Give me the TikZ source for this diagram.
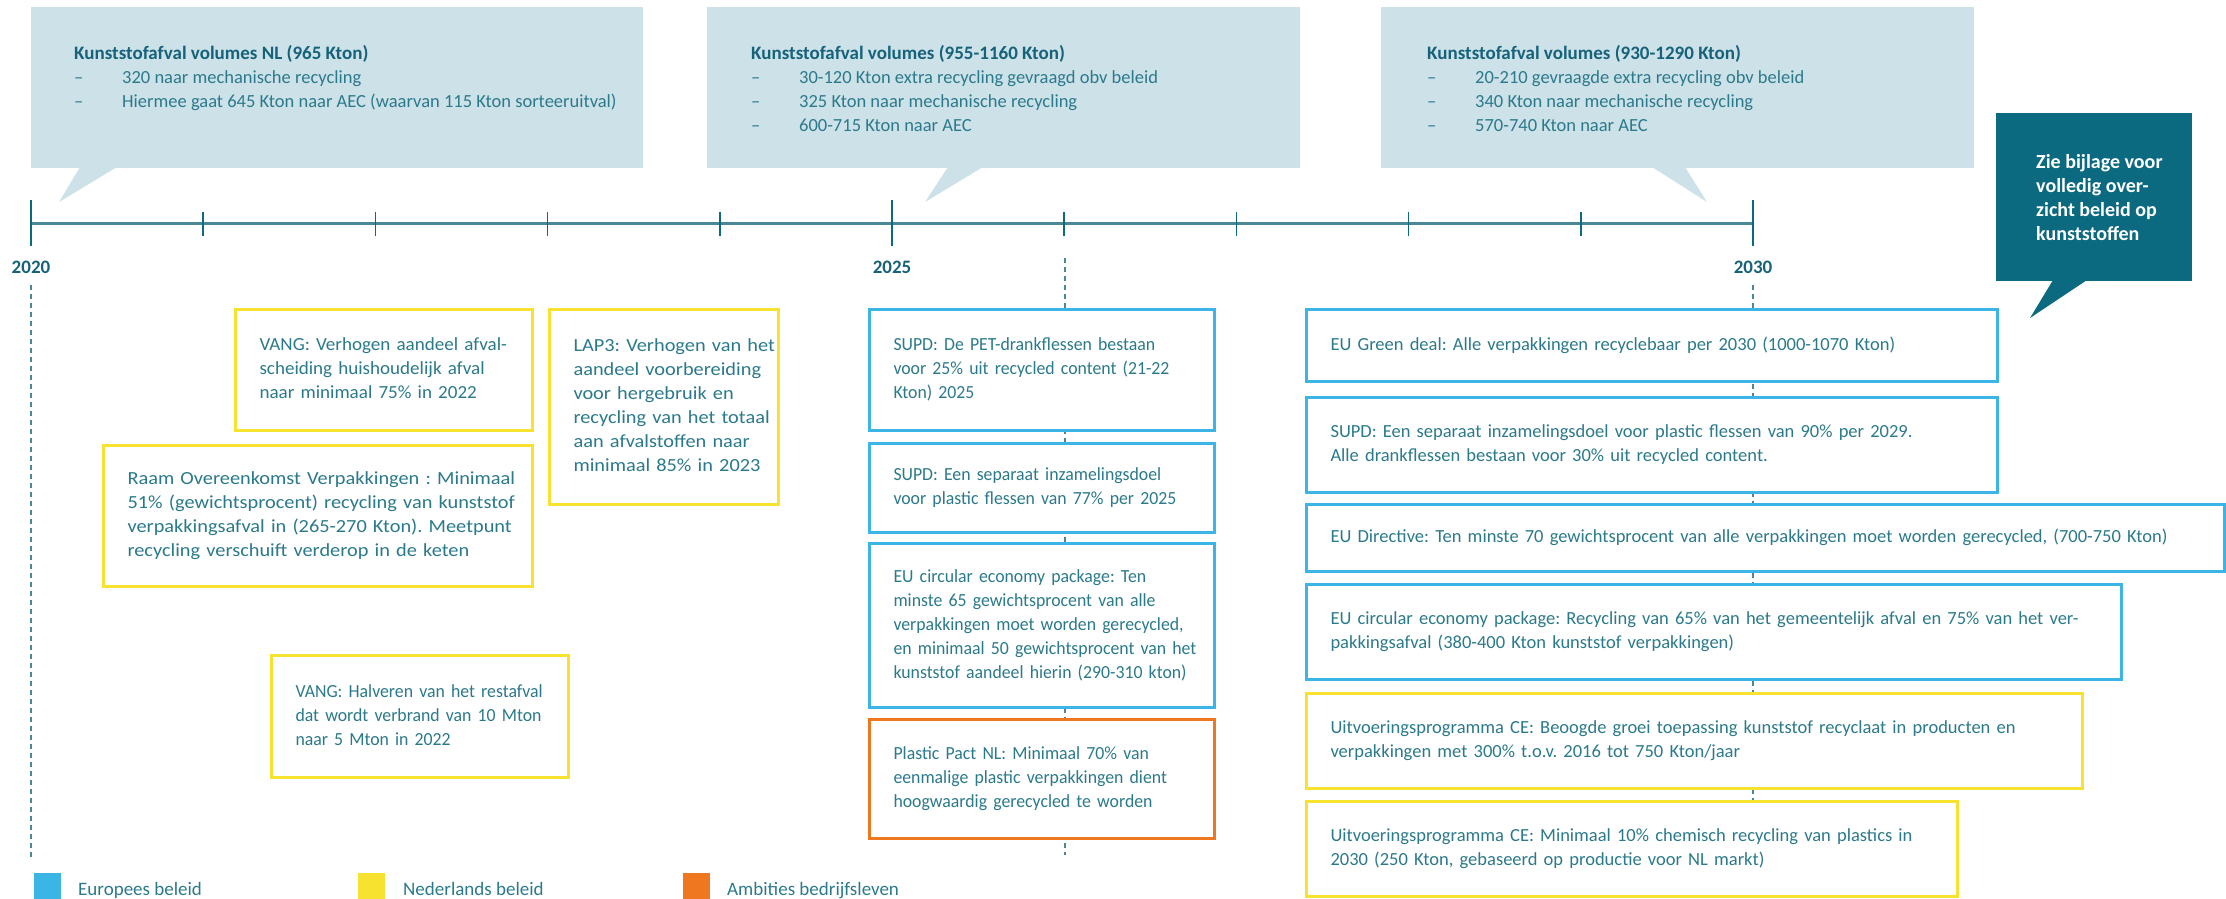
\documentclass[tikz,border=0pt]{standalone}
\usepackage{fontspec}
\setmainfont{Carlito}
\newfontfamily\stretchfnt[FakeStretch=1.1]{Carlito}
\newfontfamily\midfnt[FakeStretch=1.03]{Carlito}
\newfontfamily\narrowfnt[FakeStretch=0.96]{Carlito}
\definecolor{bub}{HTML}{CDE1E8}
\definecolor{darkteal}{HTML}{0B6A80}
\definecolor{txt}{HTML}{2B7A8B}
\definecolor{ttl}{HTML}{15627A}
\definecolor{eublue}{HTML}{3BB4E6}
\definecolor{nlyel}{HTML}{F7E22F}
\definecolor{bizor}{HTML}{EE771F}
\definecolor{axiscol}{HTML}{4A8797}
\newcommand\bodyfs{\fontsize{18.5}{24}\selectfont\frenchspacing}
\newcommand\ttlfs{\fontsize{19}{24}\selectfont\bfseries}
\newcommand\dsh{\makebox[48pt][l]{–}}
\newcommand\boxlines[1]{\begin{tabular}{@{}l@{}}#1\end{tabular}}
\tikzset{
  pbox/.style={draw, line width=3pt, fill=white, anchor=north west, inner xsep=24pt, inner ysep=0pt, align=left, font=\bodyfs, text=txt},
  eubox/.style={pbox, draw=eublue},
  nlbox/.style={pbox, draw=nlyel},
  bizbox/.style={pbox, draw=bizor},
  bubble/.style={fill=bub, draw=none, anchor=north west, inner sep=0pt},
  bubtext/.style={anchor=north west, inner sep=0pt, align=left, text=txt, font=\bodyfs},
  vline/.style={draw=axiscol, line width=1.4pt, dash pattern=on 5pt off 4pt},
  yearlabel/.style={text=ttl, font=\ttlfs, inner sep=0pt},
  legsq/.style={anchor=north west, minimum size=27pt, inner sep=0pt},
  legtext/.style={anchor=base west, inner sep=0pt, text=txt, font=\fontsize{19}{24}\selectfont},
}
\begin{document}
\begin{tikzpicture}[x=1pt,y=-1pt]
\useasboundingbox (0,0) rectangle (2226,898);

% dashed vertical guides
\coordinate (v20a) at (31,285);  \coordinate (v20b) at (31,857);
\coordinate (v25a) at (1065,258); \coordinate (v25b) at (1065,855);
\coordinate (v30a) at (1753,285); \coordinate (v30b) at (1753,800);
\draw[vline] (v20a) -- (v20b);
\draw[vline] (v25a) -- (v25b);
\draw[vline] (v30a) -- (v30b);

% speech bubbles
\node[bubble, minimum width=612pt, minimum height=161pt] (bub1) at (31,7) {};
\fill[bub] (80,167) -- (117,167) -- (59,202) -- cycle;
\node[bubtext] (bt1) at (74,45) {{\ttlfs\color{ttl}Kunststofafval volumes NL (965 Kton)}\\
\dsh 320 naar mechanische recycling\\
\dsh Hiermee gaat 645 Kton naar AEC (waarvan 115 Kton sorteeruitval)};

\node[bubble, minimum width=593pt, minimum height=161pt] (bub2) at (707,7) {};
\fill[bub] (948,167) -- (983,167) -- (925,202) -- cycle;
\node[bubtext] (bt2) at (751,45) {{\ttlfs\color{ttl}Kunststofafval volumes (955-1160 Kton)}\\
\dsh 30-120 Kton extra recycling gevraagd obv beleid\\
\dsh 325 Kton naar mechanische recycling\\
\dsh 600-715 Kton naar AEC};

\node[bubble, minimum width=593pt, minimum height=161pt] (bub3) at (1381,7) {};
\fill[bub] (1652,167) -- (1685,167) -- (1707,202) -- cycle;
\node[bubtext] (bt3) at (1427,45) {{\ttlfs\color{ttl}Kunststofafval volumes (930-1290 Kton)}\\
\dsh 20-210 gevraagde extra recycling obv beleid\\
\dsh 340 Kton naar mechanische recycling\\
\dsh 570-740 Kton naar AEC};

% dark note
\node[fill=darkteal, anchor=north west, inner sep=0pt, minimum width=196pt, minimum height=168pt] (note) at (1996,113) {};
\fill[darkteal] (2053,280) -- (2087,280) -- (2030,318) -- cycle;
\node[anchor=west, inner sep=0pt, align=left, text=white, font=\fontsize{20}{24}\selectfont\bfseries] (notetext) at (2036,198)
  {Zie bijlage voor\\volledig over-\\zicht beleid op\\kunststoffen};

% timeline axis
\coordinate (ax0) at (31,223);
\coordinate (ax1) at (1753,223);
\draw[axiscol, line width=3pt] (ax0) -- (ax1);
\foreach \i in {1,2,3,4,6,7,8,9} {
  \draw[darkteal, line width=1.6pt] (31+172.2*\i,212) -- (31+172.2*\i,236);
}
\foreach \i in {0,5,10} {
  \draw[darkteal, line width=1.6pt] (31+172.2*\i,200) -- (31+172.2*\i,246);
}
\node[yearlabel] (y2020) at (31,267) {2020};
\node[yearlabel] (y2025) at (892,267) {2025};
\node[yearlabel] (y2030) at (1753,267) {2030};

% Dutch policy boxes (left)
\node[nlbox, text width=249pt, minimum height=121pt, font=\bodyfs\midfnt] (vang1) at (234,308)
  {\boxlines{VANG: Verhogen aandeel afval-\\scheiding huishoudelijk afval\\naar minimaal 75\% in 2022}};
\node[nlbox, text width=181pt, minimum height=195pt, font=\bodyfs\stretchfnt] (lap3) at (548,308)
  {\boxlines{LAP3: Verhogen van het\\aandeel voorbereiding\\voor hergebruik en\\recycling van het totaal\\aan afvalstoffen naar\\minimaal 85\% in 2023}};
\node[nlbox, text width=381pt, minimum height=141pt, font=\bodyfs\stretchfnt] (raam) at (102,444)
  {\boxlines{Raam Overeenkomst Verpakkingen : Minimaal\\51\% (gewichtsprocent) recycling van kunststof\\verpakkingsafval in (265-270 Kton). Meetpunt\\recycling verschuift verderop in de keten}};
\node[nlbox, text width=249pt, minimum height=122pt, font=\bodyfs\narrowfnt] (vang2) at (270,654)
  {\boxlines{VANG: Halveren van het restafval\\dat wordt verbrand van 10 Mton\\naar 5 Mton in 2022}};

% 2025 column
\node[eubox, text width=297pt, minimum height=121pt, font=\bodyfs\narrowfnt] (supd1) at (868,308)
  {\boxlines{SUPD: De PET-drankflessen bestaan\\voor 25\% uit recycled content (21-22\\Kton) 2025}};
\node[eubox, text width=297pt, minimum height=89pt, font=\bodyfs\narrowfnt] (supd2) at (868,442)
  {\boxlines{SUPD: Een separaat inzamelingsdoel\\voor plastic flessen van 77\% per 2025}};
\node[eubox, text width=297pt, minimum height=164pt, font=\bodyfs\narrowfnt] (cep1) at (868,542)
  {\boxlines{EU circular economy package: Ten\\minste 65 gewichtsprocent van alle\\verpakkingen moet worden gerecycled,\\en minimaal 50 gewichtsprocent van het\\kunststof aandeel hierin (290-310 kton)}};
\node[bizbox, text width=297pt, minimum height=119pt, font=\bodyfs\narrowfnt] (pact) at (868,718)
  {\boxlines{Plastic Pact NL: Minimaal 70\% van\\eenmalige plastic verpakkingen dient\\hoogwaardig gerecycled te worden}};

% 2030 column
\node[eubox, text width=643pt, minimum height=72pt] (green) at (1305,308)
  {\boxlines{EU Green deal: Alle verpakkingen recyclebaar per 2030 (1000-1070 Kton)}};
\node[eubox, text width=643pt, minimum height=95pt] (supd3) at (1305,396)
  {\boxlines{SUPD: Een separaat inzamelingsdoel voor plastic flessen van 90\% per 2029.\\Alle drankflessen bestaan voor 30\% uit recycled content.}};
\node[eubox, text width=870pt, minimum height=67pt] (dir) at (1305,503)
  {\boxlines{EU Directive: Ten minste 70 gewichtsprocent van alle verpakkingen moet worden gerecycled, (700-750 Kton)}};
\node[eubox, text width=767pt, minimum height=95pt] (cep2) at (1305,583)
  {\boxlines{EU circular economy package: Recycling van 65\% van het gemeentelijk afval en 75\% van het ver-\\pakkingsafval (380-400 Kton kunststof verpakkingen)}};
\node[nlbox, text width=728pt, minimum height=95pt] (uit1) at (1305,692)
  {\boxlines{Uitvoeringsprogramma CE: Beoogde groei toepassing kunststof recyclaat in producten en\\verpakkingen met 300\% t.o.v. 2016 tot 750 Kton/jaar}};
\node[nlbox, text width=603pt, minimum height=95pt] (uit2) at (1305,800)
  {\boxlines{Uitvoeringsprogramma CE: Minimaal 10\% chemisch recycling van plastics in\\2030 (250 Kton, gebaseerd op productie voor NL markt)}};

% legend
\node[legsq, fill=eublue] (lg1) at (34,873) {};
\node[legtext] (lt1) at (78,895) {Europees beleid};
\node[legsq, fill=nlyel] (lg2) at (358,873) {};
\node[legtext] (lt2) at (403,895) {Nederlands beleid};
\node[legsq, fill=bizor] (lg3) at (683,873) {};
\node[legtext] (lt3) at (727,895) {Ambities bedrijfsleven};
\end{tikzpicture}
\end{document}
